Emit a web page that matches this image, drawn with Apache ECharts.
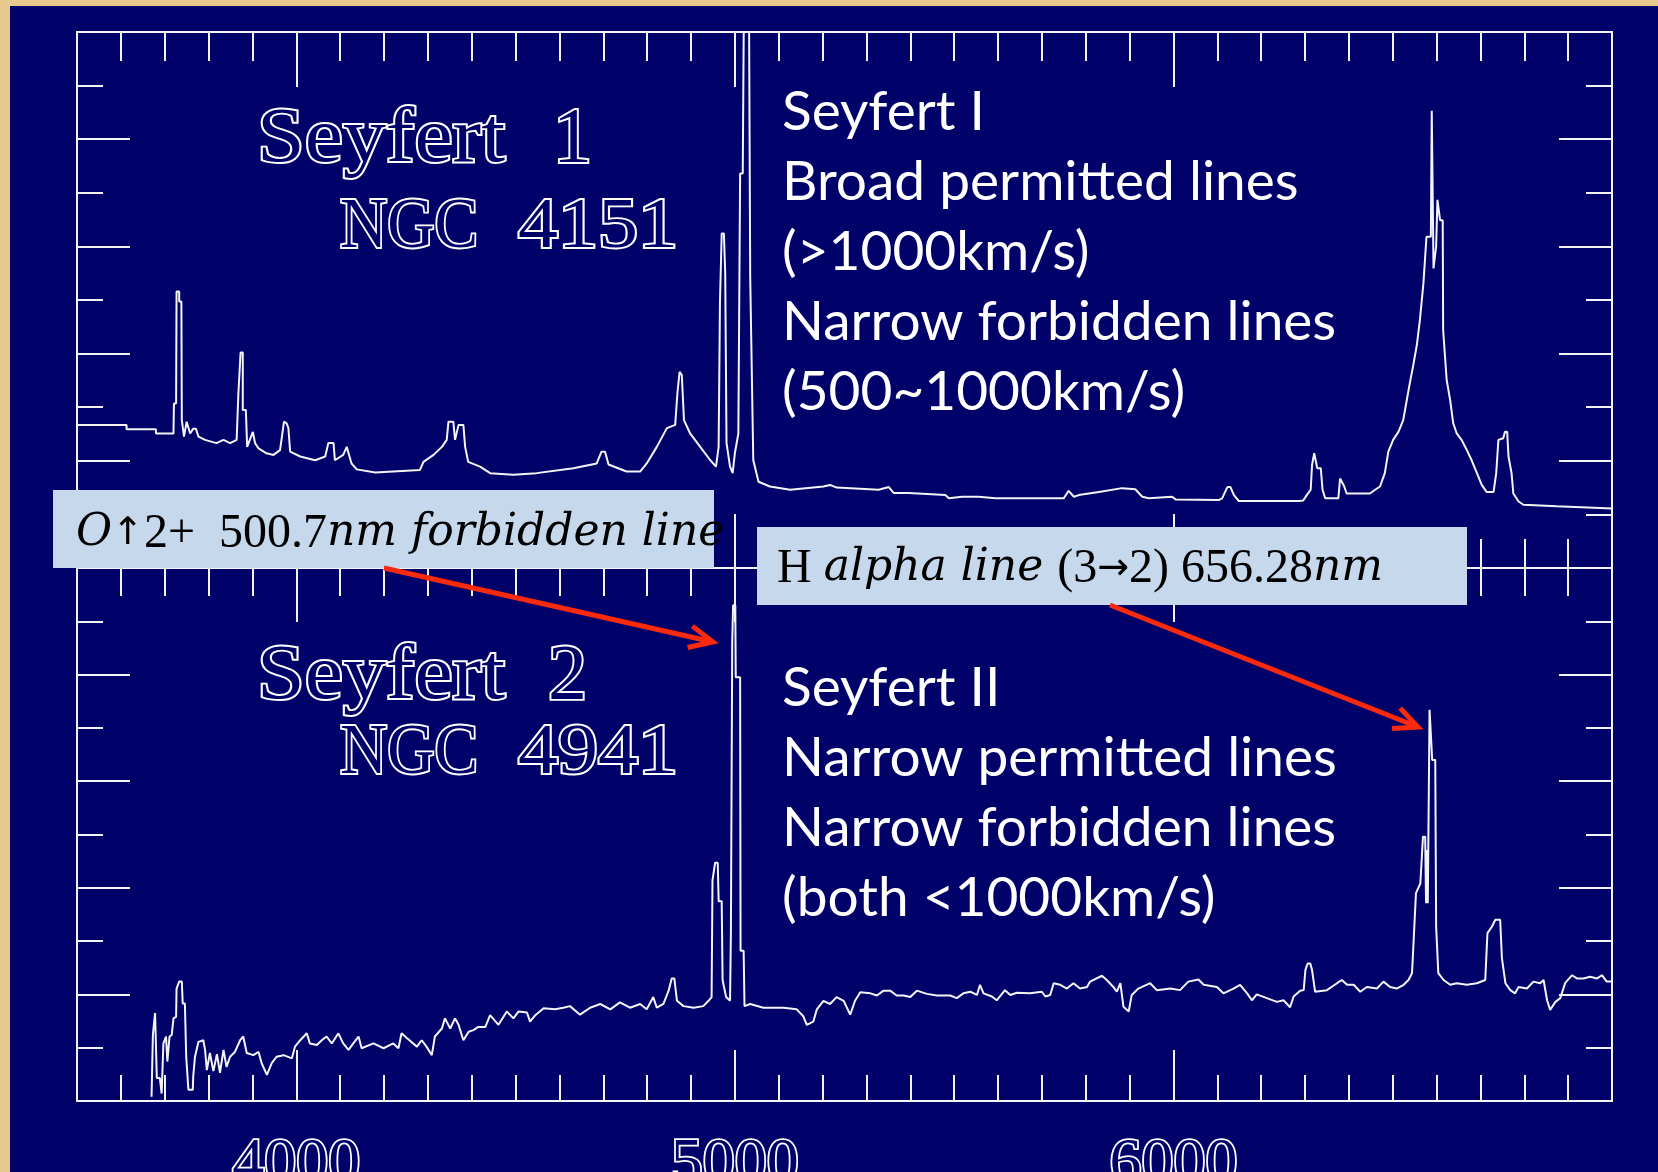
<!DOCTYPE html>
<html>
<head>
<meta charset="utf-8">
<script src="https://cdn.jsdelivr.net/npm/echarts@6/dist/echarts.min.js"></script>
<style>
html,body{margin:0;padding:0;width:1658px;height:1172px;overflow:hidden;background:#e7c98d;}
#navy{position:absolute;left:10px;top:6px;right:0;bottom:0;background:#01016a;}
#chart{position:absolute;left:0;top:0;width:1658px;height:1172px;}
</style>
</head>
<body>
<div id="navy"></div>
<div id="chart"></div>
<script>
// ---------------- data ----------------
const wavelengthRange = [3500, 7000];
const xTickLabels = [4000, 5000, 6000];
const fluxRange = [0, 10];

const seyfert1Wavelength = [3500,3613,3613,3680,3680,3720,3721,3726,3727,3733,
3733,3738,3739,3744,3750,3758,3765,3771,3777,3792,
3818,3834,3849,3864,3868,3873,3878,3878,3885,3888,
3894,3901,3906,3914,3932,3948,3963,3972,3978,3982,
3986,4009,4043,4066,4073,4085,4088,4107,4115,4126,
4138,4180,4282,4290,4313,4332,4343,4347,4358,4362,
4370,4381,4385,4392,4419,4442,4495,4548,4632,4685,
4696,4704,4712,4753,4784,4799,4822,4845,4864,4869,
4874,4879,4884,4898,4921,4944,4957,4963,4966,4970,
4975,4978,4981,4989,4995,5000,5008,5012,5018,5021,
5032,5035,5042,5054,5080,5126,5202,5217,5232,5328,
5351,5362,5396,5480,5488,5518,5556,5594,5750,5761,
5773,5784,5830,5883,5913,5929,5944,5997,6005,6104,
6111,6123,6130,6138,6149,6286,6296,6304,6313,6316,
6321,6325,6328,6336,6340,6346,6376,6380,6384,6389,
6395,6448,6460,6471,6482,6490,6501,6513,6524,6532,
6539,6547,6555,6562,6570,6577,6587,6589,6593,6593,
6597,6599,6602,6606,6608,6614,6615,6623,6631,6638,
6646,6657,6669,6680,6692,6703,6714,6730,6736,6741,
6752,6756,6761,6764,6771,6775,6787,6798,6874,7000];
const seyfert1Flux = [2.67,2.67,2.59,2.59,2.51,2.51,3.07,3.07,5.16,5.16,
4.97,4.97,2.76,2.45,2.73,2.51,2.60,2.60,2.45,2.39,
2.33,2.39,2.33,2.39,3.26,4.02,4.02,2.95,2.95,2.26,
2.39,2.54,2.33,2.23,2.14,2.11,2.20,2.73,2.70,2.61,
2.17,2.08,2.01,2.08,2.33,2.33,2.01,2.11,2.26,1.95,
1.84,1.78,1.83,1.98,2.11,2.26,2.39,2.73,2.73,2.39,
2.67,2.67,2.26,1.98,1.89,1.77,1.74,1.77,1.86,1.95,
2.17,2.17,1.93,1.80,1.80,1.95,2.26,2.61,2.67,3.26,
3.66,3.60,2.76,2.51,2.26,2.01,1.89,2.26,4.94,6.24,
6.24,5.50,2.33,1.89,1.77,2.14,2.51,7.36,7.36,11,
11,5.43,2.01,1.61,1.52,1.46,1.52,1.55,1.50,1.46,
1.51,1.40,1.40,1.36,1.30,1.33,1.33,1.30,1.30,1.44,
1.33,1.36,1.42,1.49,1.47,1.33,1.30,1.33,1.28,1.27,
1.30,1.51,1.51,1.36,1.25,1.25,1.26,1.36,1.46,1.92,
2.14,2.14,1.86,1.86,1.46,1.30,1.30,1.67,1.65,1.53,
1.39,1.39,1.46,1.52,1.77,2.17,2.39,2.54,2.76,3.13,
3.45,3.79,4.16,4.63,5.31,6.18,6.18,8.53,8.53,5.59,
5.59,6.00,6.87,6.87,6.49,6.49,4.44,3.51,3.13,2.70,
2.51,2.39,2.20,2.01,1.77,1.55,1.42,1.42,1.77,2.39,
2.42,2.54,2.54,2.08,1.77,1.39,1.24,1.18,1.15,1.11];

const seyfert2Wavelength = [3670,3673,3676,3678,3680,3682,3689,3693,3697,3703,
3706,3711,3716,3720,3726,3727,3733,3739,3741,3746,
3749,3754,3764,3765,3769,3777,3788,3792,3796,3803,
3811,3819,3826,3834,3841,3849,3860,3872,3879,3887,
3902,3914,3921,3933,3944,3955,3971,3990,3997,4009,
4024,4031,4047,4058,4069,4081,4096,4107,4119,4130,
4142,4149,4176,4199,4221,4233,4240,4252,4275,4286,
4297,4309,4316,4332,4339,4351,4362,4370,4381,4393,
4404,4415,4431,4442,4461,4480,4495,4507,4526,4533,
4545,4564,4590,4609,4624,4647,4670,4693,4716,4738,
4761,4784,4799,4814,4822,4837,4849,4856,4862,4868,
4883,4906,4928,4940,4947,4949,4955,4961,4963,4970,
4972,4980,4989,4991,4994,4996,5001,5002,5012,5013,
5020,5022,5035,5065,5111,5141,5156,5164,5179,5187,
5202,5217,5232,5248,5263,5274,5286,5309,5324,5339,
5354,5369,5385,5400,5415,5438,5461,5491,5506,5521,
5537,5552,5559,5567,5586,5597,5616,5628,5643,5673,
5700,5708,5719,5727,5742,5757,5772,5787,5803,5810,
5837,5848,5863,5871,5879,5886,5898,5905,5920,5947,
5962,5993,6015,6034,6057,6069,6099,6114,6137,6152,
6168,6179,6190,6213,6236,6251,6266,6274,6289,6297,
6301,6306,6312,6316,6323,6350,6373,6384,6396,6411,
6426,6441,6464,6479,6494,6509,6525,6536,6544,6547,
6553,6563,6569,6574,6576,6578,6580,6584,6588,6590,
6597,6599,6604,6616,6631,6646,6669,6692,6711,6716,
6726,6734,6745,6749,6757,6768,6779,6787,6806,6821,
6836,6844,6852,6859,6871,6882,6893,6909,6920,6935,
6950,6966,6977,6988,7000];
const seyfert2Flux = [0.08,1.24,1.24,1.65,1.65,0.43,0.43,0.14,1.08,1.21,
0.74,1.21,1.24,1.55,1.58,2.11,2.24,2.24,1.83,1.83,
0.83,0.21,0.21,0.46,0.83,1.11,1.14,0.96,0.58,0.90,
0.56,0.88,0.53,0.96,0.64,0.83,0.92,1.14,1.21,0.90,
0.86,0.92,0.71,0.49,0.71,0.83,0.86,0.80,1.02,1.14,
1.27,1.08,1.05,1.14,1.21,1.08,1.27,1.08,0.96,1.08,
1.21,0.99,1.08,0.99,1.08,0.99,1.27,1.18,1.02,1.14,
1.02,0.86,1.21,1.36,1.55,1.36,1.55,1.43,1.14,1.30,
1.33,1.39,1.39,1.61,1.43,1.68,1.55,1.68,1.66,1.49,
1.61,1.74,1.72,1.75,1.78,1.62,1.75,1.82,1.72,1.85,
1.75,1.82,1.72,1.95,1.75,1.82,2.07,2.30,2.30,1.88,
1.78,1.75,1.78,1.88,1.95,4.14,4.47,4.47,3.75,3.75,
2.27,1.95,1.88,3.17,8.60,9.30,9.30,7.95,7.95,2.82,
2.82,1.78,1.82,1.75,1.75,1.72,1.59,1.43,1.49,1.72,
1.88,1.82,1.95,1.88,1.62,1.88,2.04,2.02,1.98,2.07,
2.07,1.98,1.98,1.95,2.07,2.01,1.98,1.98,1.93,2.02,
2.05,1.99,2.18,2.02,1.96,1.89,2.08,1.99,2.03,2.02,
2.05,1.96,1.99,2.21,2.18,2.11,2.21,2.11,2.14,2.24,
2.35,2.27,2.14,2.05,2.21,1.77,1.68,1.99,2.11,2.21,
2.08,2.11,2.08,2.24,2.28,2.18,2.14,2.02,2.11,2.18,
2.02,1.89,2.00,1.93,1.86,1.89,1.76,1.96,2.07,2.08,
2.46,2.58,2.58,2.46,2.05,2.08,2.21,2.27,2.18,2.18,
2.05,2.14,2.11,2.24,2.14,2.11,2.18,2.27,2.40,2.89,
3.90,4.08,4.96,4.96,3.71,4.71,3.71,7.34,7.34,6.40,
6.40,3.27,2.40,2.27,2.18,2.21,2.18,2.21,2.27,3.15,
3.27,3.40,3.40,2.68,2.21,2.08,2.02,2.14,2.11,2.24,
2.21,2.27,1.89,1.71,1.86,1.93,2.21,2.36,2.30,2.30,
2.33,2.30,2.36,2.24,2.24];

// text content
const seyfert1Notes = ['Seyfert I','Broad permitted lines','(>1000km/s)','Narrow forbidden lines','(500~1000km/s)'];
const seyfert2Notes = ['Seyfert II','Narrow permitted lines','Narrow forbidden lines','(both <1000km/s)'];

// ---------------- styling ----------------
const NAVY = '#01016a';
const WHITE = '#f4f4f8';
const BOX = '#c5d8ec';
const RED = '#fb2a0c';

const s1 = seyfert1Wavelength.map((w, i) => [w, seyfert1Flux[i]]);
const s2 = seyfert2Wavelength.map((w, i) => [w, seyfert2Flux[i]]);

const axisLineStyle = {color: WHITE, width: 2};

function xAxisDef(grid, pos, len, major, labels) {
  const ax = {
    type: 'value', gridIndex: grid, position: pos,
    min: wavelengthRange[0], max: wavelengthRange[1], interval: 100,
    axisLine: {show: true, onZero: false, lineStyle: axisLineStyle},
    axisTick: {show: true, inside: true, length: len, lineStyle: {color: WHITE, width: 2}},
    axisLabel: {show: false},
    splitLine: {show: false}
  };
  if (major) ax.axisTick.customValues = xTickLabels;
  if (labels) {
    ax.axisLabel = {
      show: true, customValues: xTickLabels, margin: 32,
      fontFamily: '"Liberation Serif", "DejaVu Serif", serif', fontSize: 64,
      color: NAVY, textBorderColor: '#ffffff', textBorderWidth: 3.5,
      formatter: v => String(v)
    };
  }
  return ax;
}
function yAxisDef(grid, pos, len, interval) {
  return {
    type: 'value', gridIndex: grid, position: pos,
    min: fluxRange[0], max: fluxRange[1], interval: interval,
    axisLine: {show: true, onZero: false, lineStyle: axisLineStyle},
    axisTick: {show: true, inside: true, length: len, lineStyle: {color: WHITE, width: 2}},
    axisLabel: {show: false},
    splitLine: {show: false}
  };
}

const xAxes = [
  xAxisDef(0, 'top', 29, false), xAxisDef(0, 'top', 55, true),
  xAxisDef(0, 'bottom', 29, false), xAxisDef(0, 'bottom', 54, true),
  xAxisDef(1, 'top', 28, false), xAxisDef(1, 'top', 54, true),
  xAxisDef(1, 'bottom', 26, false), xAxisDef(1, 'bottom', 51, true, true)
];
const yAxes = [
  yAxisDef(0, 'left', 26, 1), yAxisDef(0, 'left', 53, 2),
  yAxisDef(0, 'right', 26, 1), yAxisDef(0, 'right', 53, 2),
  yAxisDef(1, 'left', 26, 1), yAxisDef(1, 'left', 53, 2),
  yAxisDef(1, 'right', 26, 1), yAxisDef(1, 'right', 53, 2)
];

// ---------------- annotations ----------------
const measureCtx = document.createElement('canvas').getContext('2d');
function textWidth(str, font) { measureCtx.font = font; return measureCtx.measureText(str).width; }

function hollow(str, x, yMid, size, targetW) {
  const font = size + 'px "Liberation Serif", "DejaVu Serif", serif';
  let sx = 1;
  if (targetW) {
    const w = textWidth(str, font);
    if (w > 0) sx = Math.max(0.75, Math.min(1.3, targetW / w));
  }
  return {type: 'text', x: x, y: yMid, scaleX: sx, z: 100,
    style: {text: str, font: font, fill: NAVY, stroke: '#ffffff', lineWidth: 3.8,
      textAlign: 'left', textVerticalAlign: 'middle', align: 'left', verticalAlign: 'middle'}};
}

const NOTE_FONT = '55px Lato, "Open Sans", "Noto Sans", sans-serif';
function note(str, x, yMid) {
  return {type: 'text', x: x, y: yMid, z: 100,
    style: {text: str, font: NOTE_FONT, fill: '#ffffff',
      textAlign: 'left', textVerticalAlign: 'middle', align: 'left', verticalAlign: 'middle'}};
}

const UP = '48px "Liberation Serif", "DejaVu Serif", serif';
const IT = 'italic 44px "DejaVu Serif", "Liberation Serif", serif';
const AR = '38px "DejaVu Sans", sans-serif';
function richLabel(x, yMid, text) {
  return {type: 'text', x: x, y: yMid, z: 101,
    style: {text: text, fill: '#000000', font: UP,
      textAlign: 'left', textVerticalAlign: 'middle', align: 'left', verticalAlign: 'middle',
      rich: {i: {font: IT, fill: '#000000'}, u: {font: UP, fill: '#000000'}, a: {font: AR, fill: '#000000'}}}};
}

function arrow(tail, tip) {
  const dx = tip[0] - tail[0], dy = tip[1] - tail[1], L = Math.hypot(dx, dy);
  const ux = dx / L, uy = dy / L, len = 26, ang = 25 * Math.PI / 180;
  const c = Math.cos(ang), s = Math.sin(ang);
  const a = [tip[0] - len * (ux * c - uy * s), tip[1] - len * (ux * s + uy * c)];
  const b = [tip[0] - len * (ux * c + uy * s), tip[1] - len * (-ux * s + uy * c)];
  return [
    {type: 'polyline', z: 102, shape: {points: [tail, [tip[0] - ux * 2, tip[1] - uy * 2]]},
      style: {stroke: RED, lineWidth: 5, fill: null}},
    {type: 'polyline', z: 102, shape: {points: [a, tip, b]},
      style: {stroke: RED, lineWidth: 5, fill: null, lineJoin: 'miter'}}
  ];
}

const graphics = [];
// outlined plot titles
graphics.push(hollow('Seyfert', 257, 141, 78, 248));
graphics.push(hollow('1', 553, 141, 78));
graphics.push(hollow('NGC', 340, 228, 72, 138));
graphics.push(hollow('4151', 518, 228, 72, 160));
graphics.push(hollow('Seyfert', 257, 678, 78, 248));
graphics.push(hollow('2', 548, 678, 78));
graphics.push(hollow('NGC', 340, 754, 72, 138));
graphics.push(hollow('4941', 518, 754, 72, 160));
// white notes
seyfert1Notes.forEach((t, i) => graphics.push(note(t, 782, 130 + 70 * i - 18)));
seyfert2Notes.forEach((t, i) => graphics.push(note(t, 782, 706 + 70 * i - 18)));
// light boxes
graphics.push({type: 'rect', z: 99, shape: {x: 53, y: 490, width: 661, height: 78}, style: {fill: BOX}});
graphics.push({type: 'rect', z: 99, shape: {x: 757, y: 527, width: 710, height: 78}, style: {fill: BOX}});
graphics.push(richLabel(76, 534, '{i|O}{a|↑}{u|2+  500.7}{i|nm forbidden line}'));
graphics.push(richLabel(777, 569, '{u|H }{i|alpha line }{u|(3}{a|→}{u|2) 656.28}{i|nm}'));
// arrows
arrow([384, 568], [713, 642]).forEach(g => graphics.push(g));
arrow([1110, 605], [1418, 727]).forEach(g => graphics.push(g));

const option = {
  animation: false,
  backgroundColor: 'transparent',
  grid: [
    {left: 77, top: 32, width: 1535, height: 536, outerBoundsMode: 'none'},
    {left: 77, top: 568, width: 1535, height: 533, outerBoundsMode: 'none'}
  ],
  xAxis: xAxes,
  yAxis: yAxes,
  series: [
    {type: 'line', name: 'NGC 4151', xAxisIndex: 0, yAxisIndex: 0, data: s1,
      symbol: 'none', showSymbol: false, clip: true, z: 5,
      lineStyle: {color: WHITE, width: 2}},
    {type: 'line', name: 'NGC 4941', xAxisIndex: 4, yAxisIndex: 4, data: s2,
      symbol: 'none', showSymbol: false, clip: true, z: 5,
      lineStyle: {color: WHITE, width: 2}}
  ],
  graphic: graphics
};

const chart = echarts.init(document.getElementById('chart'), null, {renderer: 'canvas', width: 1658, height: 1172});
chart.setOption(option);
</script>
</body>
</html>
